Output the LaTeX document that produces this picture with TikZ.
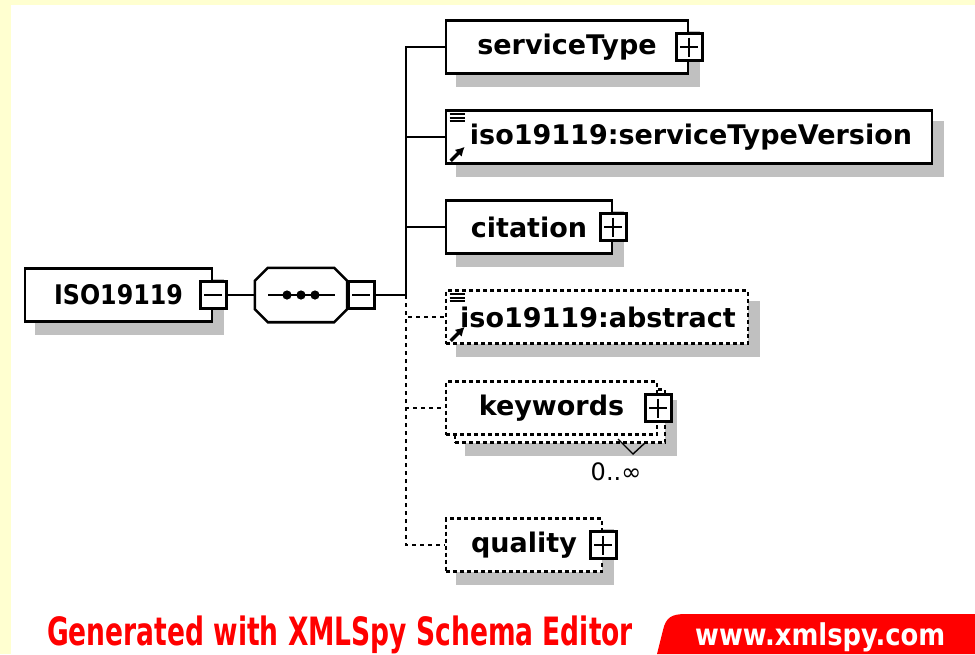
\documentclass[tikz,border=0pt]{standalone}
\usepackage{fontspec}
\setmainfont{DejaVu Sans}
\usepackage{graphicx}
\usetikzlibrary{arrows.meta,backgrounds,calc}
\definecolor{bgyellow}{RGB}{255,255,208}
\definecolor{shadowgray}{RGB}{192,192,192}
\definecolor{xred}{RGB}{255,0,0}
\newcommand{\elemfont}{\bfseries\fontsize{27}{32}\selectfont}
\newcommand{\shadowof}[1]{\fill[shadowgray] ([shift={(11,12)}]#1.north west) rectangle ([shift={(11,12)}]#1.south east);}
\begin{document}
\begin{tikzpicture}[x=1pt,y=-1pt,
  elem/.style={draw=black, line width=2.6pt, fill=white, minimum height=53pt, inner sep=0pt, font=\elemfont},
  optelem/.style={elem, dash pattern=on 4pt off 3pt},
  pmbox/.style={draw=black, line width=2.4pt, fill=white, minimum width=26pt, minimum height=27pt, inner sep=0pt},
  plusbox/.style={pmbox, path picture={\draw[line width=2.2pt] ([xshift=4pt]path picture bounding box.west) -- ([xshift=-4pt]path picture bounding box.east) ([yshift=-4pt]path picture bounding box.north) -- ([yshift=4pt]path picture bounding box.south);}},
  minusbox/.style={pmbox, path picture={\draw[line width=2.2pt] ([xshift=4pt]path picture bounding box.west) -- ([xshift=-4pt]path picture bounding box.east);}},
  conn/.style={line width=2.6pt},
  optconn/.style={line width=2.6pt, dash pattern=on 4pt off 4pt},
  refline/.style={line width=2pt},
  refarrow/.style={line width=3.2pt, -{Latex[length=9pt,width=10pt]}},
  footer/.style={font=\bfseries\fontsize{39}{44}\selectfont, text=xred, anchor=base west, inner sep=0pt},
]
\useasboundingbox (0,0) rectangle (975,654);

% main element
\node[elem, minimum width=187pt] (iso) at (118.5,295) {\scalebox{0.88}[1]{ISO19119}\hspace{12pt}};
\node[minusbox] (isom) at (iso.east) {};

% sequence compositor
\node[minimum width=92pt, minimum height=54pt, inner sep=0pt] (seq) at (301,295) {};
\draw[line width=2.6pt, fill=white]
  ($(seq.north west)+(13,0)$) -- ($(seq.north east)+(-13,0)$) -- ($(seq.north east)+(0,13)$) --
  ($(seq.south east)+(0,-13)$) -- ($(seq.south east)+(-13,0)$) -- ($(seq.south west)+(13,0)$) --
  ($(seq.south west)+(0,-13)$) -- ($(seq.north west)+(0,13)$) -- cycle;
\draw[line width=2.6pt] ($(seq.center)+(-33,0)$) -- ($(seq.center)+(34,0)$);
\foreach \dx in {-14,0,14} \fill ($(seq.center)+(\dx,0)$) circle (4.6pt);
\node[minusbox, anchor=west] (seqm) at (seq.east) {};

\coordinate (jn) at (406,295);

% children
\node[elem, minimum width=242pt] (st) at (567,47) {serviceType\hspace{10pt}};
\node[plusbox] (stp) at (st.east) {};

\node[elem, minimum width=486pt] (stv) at (689,137) {\hspace{4pt}iso19119:serviceTypeVersion};

\node[elem, minimum width=166pt] (cit) at (529,227) {citation\hspace{10pt}};
\node[plusbox] (citp) at (cit.east) {};

\node[optelem, minimum width=302pt] (abs) at (597,317) {\hspace{2pt}iso19119:abstract};

\node[optelem, minimum width=210pt] (kwb) at (560,416) {};
\node[optelem, minimum width=211pt] (kw) at (551.5,408) {keywords\hspace{9pt}};
\node[plusbox] (kwp) at (kw.east) {};
\draw[line width=1.4pt] (618,439) -- (633,454) -- (646,442);
\node[font=\fontsize{24}{28}\selectfont, inner sep=0pt] (mult) at (616,472) {0..∞};

\node[optelem, minimum width=156pt] (qual) at (524,545) {quality\hspace{11pt}};
\node[plusbox] (qualp) at (qual.east) {};

% reference icons
\foreach \n in {stv,abs}{
  \draw[refline] ([shift={(5,5)}]\n.north west) -- ([shift={(20,5)}]\n.north west);
  \draw[refline] ([shift={(5,8.5)}]\n.north west) -- ([shift={(20,8.5)}]\n.north west);
  \draw[refline] ([shift={(5,12)}]\n.north west) -- ([shift={(20,12)}]\n.north west);
  \draw[refarrow] ([shift={(6,-4)}]\n.south west) -- ([shift={(20,-18)}]\n.south west);
}

% connectors
\draw[conn] (isom.east) -- (seq.west);
\draw[conn] (seqm.east) -- (jn);
\draw[conn] (jn) |- (st.west);
\draw[conn] (jn) |- (stv.west);
\draw[conn] (jn) |- (cit.west);
\draw[optconn] (jn) |- (abs.west);
\draw[optconn] (jn) |- (kw.west);
\draw[optconn] (jn) |- (qual.west);

% footer
\node[footer] (gen) at (47,645) {\scalebox{0.68}[1]{Generated with XMLSpy Schema Editor}};
\fill[xred] (657,654) -- (663,630) .. controls (666,617) and (672,614) .. (686,614) -- (975,614) -- (975,654) -- cycle;
\node[footer, text=white, font=\bfseries\fontsize{30}{34}\selectfont] (www) at (695,645) {\scalebox{0.86}[1]{www.xmlspy.com}};

% background and shadows
\begin{scope}[on background layer]
  \fill[bgyellow] (0,0) rectangle (975,654);
  \fill[white] (11,5) rectangle (975,654);
  \shadowof{iso}
  \fill[shadowgray, shift={(11,12)}]
    ($(seq.north west)+(13,0)$) -- ($(seq.north east)+(-13,0)$) -- ($(seq.north east)+(0,13)$) --
    ($(seq.south east)+(0,-13)$) -- ($(seq.south east)+(-13,0)$) -- ($(seq.south west)+(13,0)$) --
    ($(seq.south west)+(0,-13)$) -- ($(seq.north west)+(0,13)$) -- cycle;
  \shadowof{st}
  \shadowof{stv}
  \shadowof{cit}
  \shadowof{abs}
  \shadowof{kwb}
  \shadowof{qual}
\end{scope}
\end{tikzpicture}
\end{document}
